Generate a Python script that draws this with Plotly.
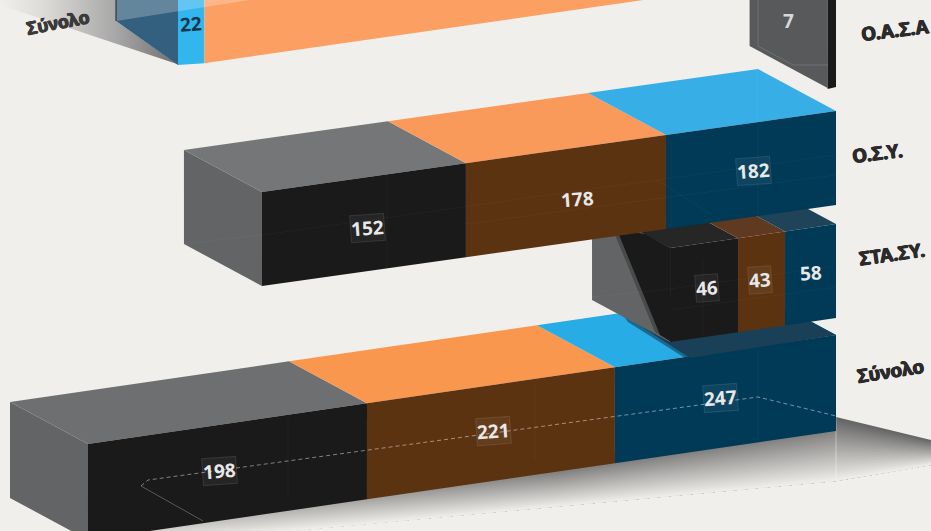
import plotly.graph_objects as go

BG = "#f1efeb"
# ---- data ----
row_names = ["Ο.Σ.Υ.", "ΣΤΑ.ΣΥ.", "Σύνολο"]
osy_values = [152, 178, 182]
stasy_values = [46, 43, 58]
total_values = [198, 221, 247]
oasa_blue_value = 22
oasa_black_value = 7

# ---- drawing parameters (perspective) ----
RIGHT = 836
DEPTH = (-78, -42)
osy_scale = [1.342, 1.124, 0.934]
stasy_scale = [1.478, 1.093, 0.879]
total_scale = [1.409, 1.122, 0.895]
front_cols = ["#1a1a1a", "#5c3311", "#003a57"]
osy_nudge = [(4, 3), (12, 3), (2, 1)]
stasy_nudge = [(3, -2), (-2, -2), (0, -2)]
total_nudge = [(-8, -1), (3, -2), (-5, -1)]

fig = go.Figure()


def poly(xs, ys, color, **kw):
    fig.add_trace(go.Scatter(x=list(xs) + [xs[0]], y=list(ys) + [ys[0]], mode="lines",
                             line=dict(width=0), fill="toself", fillcolor=color,
                             hoverinfo="skip", showlegend=False, **kw))


def line(pts, color, dash=None, width=1):
    fig.add_trace(go.Scatter(x=[p[0] for p in pts], y=[p[1] for p in pts], mode="lines",
                             line=dict(color=color, width=width, dash=dash),
                             hoverinfo="skip", showlegend=False))


def lerp(a, b, t):
    return a + (b - a) * t


def bar(values, scales, y_right, slope, height, top_cols, side_col):
    """Stack black / brown / blue leftwards from the right edge."""
    widths = [v * s for v, s in zip(values, scales)]
    edges = [RIGHT]
    for w in reversed(widths):
        edges.append(edges[-1] - w)
    edges = edges[::-1]  # left .. right
    Y = lambda x: y_right + slope * (RIGHT - x)
    dx, dy = DEPTH
    x0 = edges[0]
    poly([x0 + dx, x0, x0, x0 + dx],
         [Y(x0) + dy, Y(x0), Y(x0) + height, Y(x0) + dy + height], side_col)
    centers = []
    for i in range(3):
        a, b = edges[i], edges[i + 1]
        poly([a, b, b + dx, a + dx], [Y(a), Y(b), Y(b) + dy, Y(a) + dy], top_cols[i])
        poly([a, b, b, a], [Y(a), Y(b), Y(b) + height, Y(a) + height], front_cols[i])
        c = (a + b) / 2
        centers.append((c, Y(c) + height / 2))
    return edges, Y, centers


def vlabel(x, y, text, color="#e8e8e8", boxed=True, size=19, angle=-4):
    fig.add_annotation(x=x, y=y, text=f"<b>{text}</b>", showarrow=False, textangle=angle,
                       font=dict(family="Open Sans", size=size, color=color),
                       bgcolor="rgba(255,255,255,0.05)" if boxed else None,
                       bordercolor="rgba(255,255,255,0.10)" if boxed else None,
                       borderwidth=1 if boxed else 0, borderpad=0)


def rowlabel(x, y, text, angle=-8, size=19, color="#2b2b2b"):
    fig.add_annotation(x=x, y=y, text=text, showarrow=False, textangle=angle,
                       font=dict(family="Noto Sans", size=size, color=color, weight=700,
                                 shadow=f"0.5px 0 0 {color}, -0.5px 0 0 {color}, 0 0.5px 0 {color}"))


# ---- top row (cut by the picture edge) ----
fig.add_trace(go.Scatter(x=[0, 116, 116, 177, 0, 0], y=[0, 0, 21, 64, 5, 0], mode="lines",
                         line=dict(width=0), fill="toself", hoverinfo="skip", showlegend=False,
                         fillgradient=dict(type="horizontal",
                                           colorscale=[[0, BG], [0.25, "#dcdbd8"], [0.65, "#a8a8a8"], [1, "#707070"]])))
poly([116, 178, 178, 116], [-10, -10, 65, 21], "#34607f")
oasa_blue_right = 178 + oasa_blue_value * 1.2
poly([178, oasa_blue_right, oasa_blue_right, 178], [-10, -10, 65 - 0.144 * 26 + 2, 65], "#33b5ee")
poly([oasa_blue_right, 836, 836, oasa_blue_right],
     [-140, -140, 65 - 0.144 * (836 - 178) + 2, 65 - 0.144 * (oasa_blue_right - 178) + 2], "#fb9f62")
poly([116, 250, 116], [0, 0, 21], "rgba(255,255,255,0.24)")
line([(116, -5), (116, 21)], "#222222")
oasa_black_left = RIGHT - oasa_black_value * 1.2
poly([oasa_black_left + DEPTH[0], oasa_black_left, oasa_black_left, oasa_black_left + DEPTH[0]],
     [-10, -10, 88, 46], "#58595b")
poly([oasa_black_left, RIGHT, RIGHT, oasa_black_left], [-10, -10, 87, 89], "#1a1a1a")
line([(758, 0), (758, 46), (793, 65), (828, 65)], "rgba(255,255,255,0.14)")

# ---- soft floor shadow under the bottom bar ----
knots_x = [60, 836, 931]
top_edge = [545, 417, 440]
bot_edge = [552, 481, 465]
N = 30
for k in range(N):
    t0 = k / N
    ys0 = [lerp(a, b, t0) for a, b in zip(top_edge, bot_edge)]
    t = (k + 0.5) / N
    col = f"rgb({int(lerp(100, 241, t))},{int(lerp(100, 239, t))},{int(lerp(100, 235, t))})"
    poly(knots_x + knots_x[::-1], ys0 + bot_edge[::-1], col)
fig.add_trace(go.Scatter(x=[60, 560, 560, 60, 60], y=[410, 410, 540, 540, 410], mode="lines",
                         line=dict(width=0), fill="toself", hoverinfo="skip", showlegend=False,
                         fillgradient=dict(type="horizontal",
                                           colorscale=[[0, "rgba(241,239,235,1)"], [0.35, "rgba(241,239,235,0.6)"],
                                                       [1, "rgba(241,239,235,0)"]])))
line([(836, 417), (836, 481)], "rgba(255,255,255,0.4)")

# ---- bottom bar: Σύνολο ----
ed_t, Y_t, ctr_t = bar(total_values, total_scale, 335, 0.1457, 96,
                       ["#6e6f71", "#fa974f", "#27ace6"], "#636466")
# shadow thrown on its blue top face by the bar above
poly([612, 628, 685, 836, 758], [300, 322, 358, 335, 293], "rgba(13,52,75,0.55)")
poly([620, 634, 690, 836, 758], [300, 322, 358, 335, 293], "#1a4058")
line([(141, 486), (148, 480), (758, 397), (836, 416)], "rgba(255,255,255,0.45)", dash="4px,3px")
line([(141, 486), (203, 521)], "rgba(255,255,255,0.28)")
for p in [[(288, 418), (288, 495)], [(535, 385), (535, 460)], [(758, 350), (758, 440)]]:
    line(p, "rgba(255,255,255,0.03)")

# ---- middle bar: ΣΤΑ.ΣΥ. ----
ed_s, Y_s, ctr_s = bar(stasy_values, stasy_scale, 224, 0.145, 94,
                       ["#262626", "#5f3a20", "#1f445a"], "#636466")
poly([613, 655, 670, 670, 645], [230, 332, 341, 248, 234], "rgba(26,26,26,0.35)")
poly([617, 660, 670, 670, 645], [230, 335, 341, 248, 234], "#1a1a1a")
for p in [[(592, 297), (670, 289), (836, 266)], [(670, 310), (836, 287)], [(703, 258), (703, 336)]]:
    line(p, "rgba(255,255,255,0.03)")

# ---- upper bar: Ο.Σ.Υ. ----
ed_o, Y_o, ctr_o = bar(osy_values, osy_scale, 111, 0.1411, 94,
                       ["#757678", "#fa9a5a", "#38aee6"], "#636466")
for p in [[(184, 244), (262, 235), (836, 155)], [(466, 224), (836, 175)], [(758, 68), (758, 215)],
          [(387, 175), (387, 268)], [(657, 180), (720, 220)]]:
    line(p, "rgba(255,255,255,0.03)")

# ---- texts ----
for values, centers, nudge in [(osy_values, ctr_o, osy_nudge), (stasy_values, ctr_s, stasy_nudge),
                               (total_values, ctr_t, total_nudge)]:
    for v, (cx, cy), (nx, ny) in zip(values, centers, nudge):
        vlabel(cx + nx, cy + ny, v, boxed=v not in (178, 58))
vlabel(191, 24, oasa_blue_value, color="#12384f", boxed=False)
vlabel(788, 21, oasa_black_value, color="#d8d8d8", boxed=False, angle=0)

rowlabel(877, 153, row_names[0], angle=-7)
rowlabel(892, 254, row_names[1], angle=-8)
rowlabel(890, 371, row_names[2], angle=-9)
rowlabel(895, 30, "Ο.Α.Σ.Α", angle=-7)
rowlabel(58, 22, row_names[2], angle=-11, size=18, color="#3a3a3a")

fig.update_layout(width=931, height=531, margin=dict(l=0, r=0, t=0, b=0),
                  paper_bgcolor=BG, plot_bgcolor=BG, showlegend=False,
                  xaxis=dict(range=[0, 931], visible=False, fixedrange=True),
                  yaxis=dict(range=[531, 0], visible=False, fixedrange=True))
fig.write_html("out.html", config={"displayModeBar": False},
               post_script="document.body.style.margin='0';document.body.style.overflow='hidden';"
                           "document.body.style.background='#f1efeb';")
